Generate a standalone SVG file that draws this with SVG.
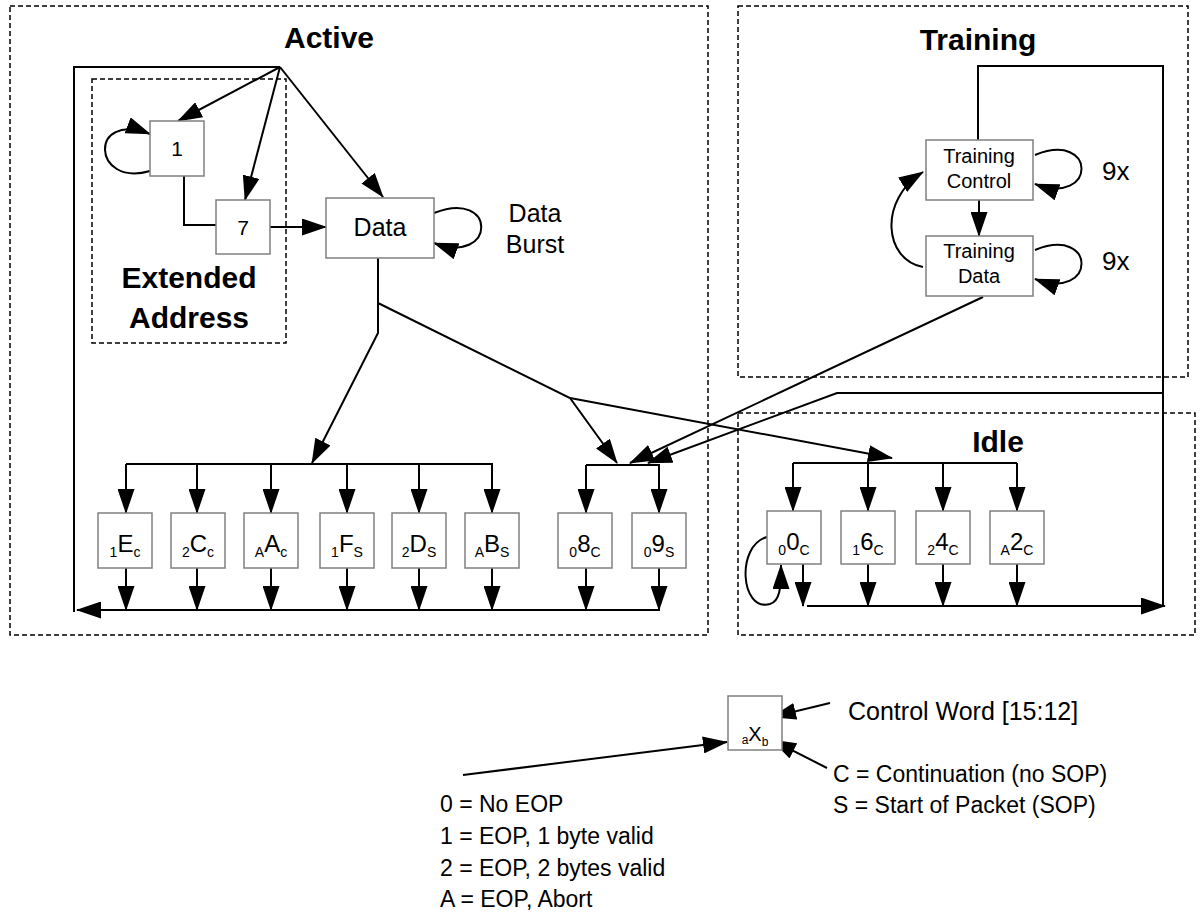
<svg xmlns="http://www.w3.org/2000/svg" width="1200" height="917" viewBox="0 0 1200 917">
<defs>
<marker id="ah" markerUnits="userSpaceOnUse" markerWidth="25" markerHeight="17" refX="24" refY="8.5" orient="auto">
<path d="M0,0 L25,8.5 L0,17 z" fill="#000"/>
</marker>
<style>
.dash{fill:none;stroke:#000;stroke-width:1.5;stroke-dasharray:5,3}
.box{fill:#fff;stroke:#808080;stroke-width:1.5}
.ln{fill:none;stroke:#000;stroke-width:2}
.ar{fill:none;stroke:#000;stroke-width:2;marker-end:url(#ah)}
text{font-family:"Liberation Sans",Arial,sans-serif;fill:#000}
.ttl{font-size:30px;font-weight:bold;text-anchor:middle}
.lbl{font-size:20px;text-anchor:middle}
.big{font-size:25px}
.leg{font-size:23px}
.cw{text-anchor:middle}
.m{font-size:24px}
.s{font-size:14px}
</style>
</defs>
<rect width="1200" height="917" fill="#fff"/>

<g id="regions">
<rect class="dash" x="10" y="6" width="698" height="629"/>
<rect class="dash" x="738" y="6" width="450" height="371"/>
<rect class="dash" x="738" y="413" width="457" height="222"/>
<rect class="dash" x="92" y="79" width="194" height="264"/>
<text class="ttl" x="329" y="48">Active</text>
<text class="ttl" x="978" y="50">Training</text>
<text class="ttl" x="998" y="452">Idle</text>
<text class="ttl" x="189" y="288">Extended</text>
<text class="ttl" x="189" y="328">Address</text>
</g>

<g id="connectors">
<polyline class="ln" points="74,612 74,67 280,67"/>
<path class="ar" d="M660,610 L77,610"/>
<path class="ar" d="M280,67 L178,121"/>
<path class="ar" d="M280,67 L245,200"/>
<path class="ar" d="M280,67 L383,197"/>
<polyline class="ln" points="184,176 184,225 216,225"/>
<path class="ar" d="M270,227 L326,227"/>
<path class="ar" d="M150,171 C92,188 88,110 150,134"/>
<path class="ar" d="M434,213 C497,188 497,266 434,243"/>
<path class="ar" d="M378,258 L378,333 L312,463"/>
<path class="ar" d="M378,303 L570,398 L617,463"/>
<path class="ar" d="M570,398 L892,458"/>
<polyline class="ln" points="126,464 493,464"/>
<path class="ar" d="M126,464 L126,513"/>
<path class="ar" d="M197,464 L197,513"/>
<path class="ar" d="M271,464 L271,513"/>
<path class="ar" d="M347,464 L347,513"/>
<path class="ar" d="M419,464 L419,513"/>
<path class="ar" d="M492,464 L492,513"/>
<polyline class="ln" points="586,465 660,465"/>
<path class="ar" d="M586,465 L586,513"/>
<path class="ar" d="M659,465 L659,513"/>
<path class="ar" d="M126,568 L126,610"/>
<path class="ar" d="M197,568 L197,610"/>
<path class="ar" d="M271,568 L271,610"/>
<path class="ar" d="M347,568 L347,610"/>
<path class="ar" d="M419,568 L419,610"/>
<path class="ar" d="M492,568 L492,610"/>
<path class="ar" d="M586,568 L586,610"/>
<path class="ar" d="M659,568 L659,610"/>
<polyline class="ln" points="793,463 1017,463"/>
<path class="ar" d="M793,463 L793,511"/>
<path class="ar" d="M868,463 L868,511"/>
<path class="ar" d="M943,463 L943,511"/>
<path class="ar" d="M1017,463 L1017,511"/>
<path class="ar" d="M803,564 L803,606"/>
<path class="ar" d="M868,564 L868,606"/>
<path class="ar" d="M943,564 L943,606"/>
<path class="ar" d="M1017,564 L1017,606"/>
<path class="ar" d="M807,606 L1165,606"/>
<path class="ar" d="M767,537 C736,545 740,612 770,604 C780,601 781,588 781,565"/>
<polyline class="ln" points="1163,606 1163,66 978,66 978,140"/>
<path class="ar" d="M1163,393 L837,393 L648,463"/>
<path class="ar" d="M983,297 L630,463"/>
<path class="ar" d="M979,200 L979,236"/>
<path class="ar" d="M923,267 C884,260 878,200 923,172"/>
<path class="ar" d="M1035,155 C1097,130 1097,207 1035,184"/>
<path class="ar" d="M1035,250 C1097,225 1097,302 1035,279"/>
<path class="ar" d="M830,703 L772,717"/>
<path class="ar" d="M827,768 L772,740"/>
<path class="ar" d="M463,775 L727,742"/>
</g>

<g id="n1"><rect class="box" x="150" y="121" width="54" height="55"/><text class="lbl" x="177" y="156" style="font-size:21px">1</text></g>
<g id="n7"><rect class="box" x="216" y="200" width="54" height="54"/><text class="lbl" x="243" y="235" style="font-size:21px">7</text></g>
<g id="data"><rect class="box" x="326" y="198" width="108" height="60"/><text class="lbl big" x="380" y="236">Data</text></g>
<g id="databurst"><text class="lbl big" x="535" y="222">Data</text><text class="lbl big" x="535" y="253">Burst</text></g>
<g id="tc"><rect class="box" x="926" y="140" width="107" height="60"/><text class="lbl" x="979" y="163">Training</text><text class="lbl" x="979" y="188">Control</text></g>
<g id="td"><rect class="box" x="926" y="236" width="107" height="60"/><text class="lbl" x="979" y="258">Training</text><text class="lbl" x="979" y="283">Data</text></g>
<g id="ninex"><text class="big" x="1102" y="180" style="font-size:26px">9x</text><text class="big" x="1102" y="270" style="font-size:26px">9x</text></g>

<g id="n1Ec"><rect class="box" x="98" y="513" width="54" height="55"/><text class="cw" x="125" y="557"><tspan class="s">1</tspan><tspan class="m" dy="-5">E</tspan><tspan class="s" dy="5">c</tspan></text></g>
<g id="n2Cc"><rect class="box" x="171" y="513" width="54" height="55"/><text class="cw" x="198" y="557"><tspan class="s">2</tspan><tspan class="m" dy="-5">C</tspan><tspan class="s" dy="5">c</tspan></text></g>
<g id="nAAc"><rect class="box" x="244" y="513" width="54" height="55"/><text class="cw" x="271" y="557"><tspan class="s">A</tspan><tspan class="m" dy="-5">A</tspan><tspan class="s" dy="5">c</tspan></text></g>
<g id="n1FS"><rect class="box" x="320" y="513" width="54" height="55"/><text class="cw" x="347" y="557"><tspan class="s">1</tspan><tspan class="m" dy="-5">F</tspan><tspan class="s" dy="5">S</tspan></text></g>
<g id="n2DS"><rect class="box" x="392" y="513" width="54" height="55"/><text class="cw" x="419" y="557"><tspan class="s">2</tspan><tspan class="m" dy="-5">D</tspan><tspan class="s" dy="5">S</tspan></text></g>
<g id="nABS"><rect class="box" x="465" y="513" width="54" height="55"/><text class="cw" x="492" y="557"><tspan class="s">A</tspan><tspan class="m" dy="-5">B</tspan><tspan class="s" dy="5">S</tspan></text></g>
<g id="n08C"><rect class="box" x="558" y="513" width="54" height="55"/><text class="cw" x="585" y="557"><tspan class="s">0</tspan><tspan class="m" dy="-5">8</tspan><tspan class="s" dy="5">C</tspan></text></g>
<g id="n09S"><rect class="box" x="632" y="513" width="54" height="55"/><text class="cw" x="659" y="557"><tspan class="s">0</tspan><tspan class="m" dy="-5">9</tspan><tspan class="s" dy="5">S</tspan></text></g>

<g id="n00C"><rect class="box" x="767" y="511" width="54" height="53"/><text class="cw" x="794" y="555"><tspan class="s">0</tspan><tspan class="m" dy="-5">0</tspan><tspan class="s" dy="5">C</tspan></text></g>
<g id="n16C"><rect class="box" x="841" y="511" width="54" height="53"/><text class="cw" x="868" y="555"><tspan class="s">1</tspan><tspan class="m" dy="-5">6</tspan><tspan class="s" dy="5">C</tspan></text></g>
<g id="n24C"><rect class="box" x="916" y="511" width="54" height="53"/><text class="cw" x="943" y="555"><tspan class="s">2</tspan><tspan class="m" dy="-5">4</tspan><tspan class="s" dy="5">C</tspan></text></g>
<g id="nA2C"><rect class="box" x="990" y="511" width="54" height="53"/><text class="cw" x="1017" y="555"><tspan class="s">A</tspan><tspan class="m" dy="-5">2</tspan><tspan class="s" dy="5">C</tspan></text></g>

<g id="legendbox"><rect class="box" x="728" y="696" width="54" height="54"/><text class="cw" x="755" y="744"><tspan style="font-size:12px">a</tspan><tspan style="font-size:20px" dy="-3">X</tspan><tspan style="font-size:12px" dy="5">b</tspan></text></g>
<g id="legendtext">
<text class="leg" x="848" y="720" style="font-size:25px">Control Word [15:12]</text>
<text class="leg" x="833" y="782">C = Continuation (no SOP)</text>
<text class="leg" x="833" y="813">S = Start of Packet (SOP)</text>
<text class="leg" x="440" y="812">0 = No EOP</text>
<text class="leg" x="440" y="844">1 = EOP, 1 byte valid</text>
<text class="leg" x="440" y="876">2 = EOP, 2 bytes valid</text>
<text class="leg" x="440" y="907">A = EOP, Abort</text>
</g>
</svg>
